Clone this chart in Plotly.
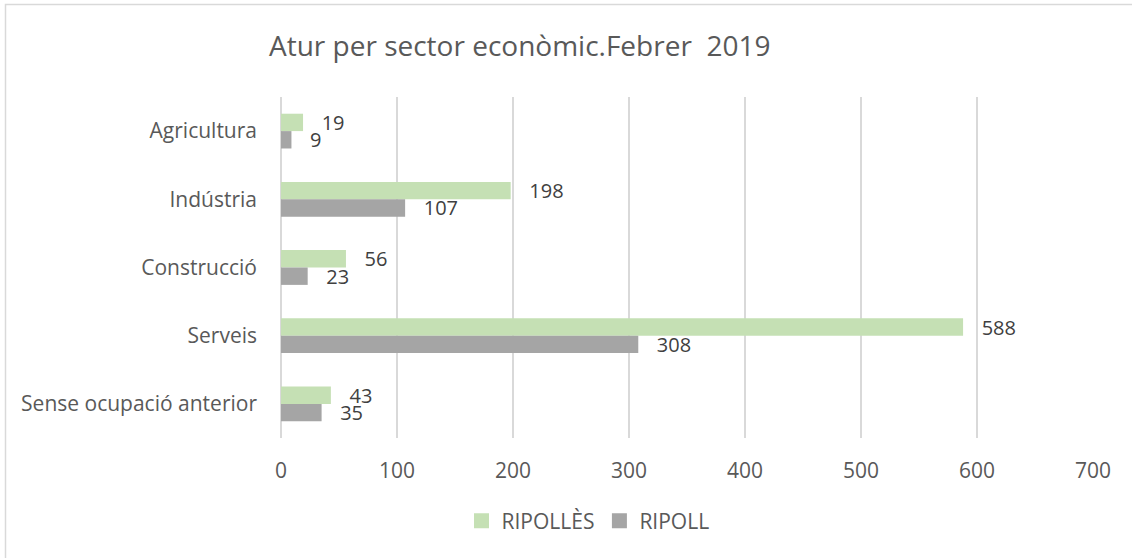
import plotly.graph_objects as go

categories = ["Agricultura", "Indústria", "Construcció", "Serveis", "Sense ocupació anterior"]
ripolles = [19, 198, 56, 588, 43]
ripoll = [9, 107, 23, 308, 35]
x_ticks = [0, 100, 200, 300, 400, 500, 600, 700]

W, H = 1132, 558
L, R, T, B = 281, 1093, 97, 438
pw, ph = R - L, B - T

def px(x):
    return (x - L) / pw

def py(y):
    return (B - y) / ph

FONT = "Open Sans"
TXT = "#595959"
series = [("RIPOLLÈS", ripolles, "#C5E0B4"), ("RIPOLL", ripoll, "#A5A5A5")]

fig = go.Figure()
for name, vals, col in series:
    fig.add_trace(go.Bar(
        y=categories, x=vals, name=name, orientation="h", showlegend=False,
        marker=dict(color=col, line=dict(width=0)),
        text=vals, texttemplate="\u00a0\u00a0\u00a0%{x}", textposition="outside",
        constraintext="none",
        textfont=dict(family=FONT, size=20, color="#404040"), cliponaxis=False,
    ))
# legend keys (square swatches like the reference)
for name, vals, col in series:
    fig.add_trace(go.Scatter(
        x=[None], y=[None], name=name, mode="markers",
        marker=dict(symbol="square", size=15, color=col), showlegend=True,
    ))

fig.update_layout(
    width=W, height=H,
    margin=dict(l=L, r=W - R, t=T, b=H - B, autoexpand=False),
    paper_bgcolor="white", plot_bgcolor="white",
    barmode="group", bargap=0.49, bargroupgap=0,
    font=dict(family=FONT, color=TXT),
    showlegend=True,
    legend=dict(orientation="h", x=px(588), y=py(521), xanchor="center", yanchor="middle",
                font=dict(family=FONT, size=21, color=TXT), traceorder="normal",
                itemwidth=30, itemsizing="trace"),
    xaxis=dict(range=[0, 700], tickvals=x_ticks, showgrid=True, gridcolor="#D9D9D9",
               gridwidth=1.5, zeroline=True, zerolinecolor="#D9D9D9", zerolinewidth=1.5,
               showline=False, ticks="", tickfont=dict(family=FONT, size=21, color=TXT),
               ticklabelstandoff=18, fixedrange=True),
    yaxis=dict(autorange="reversed", showgrid=False, zeroline=False, showline=False,
               ticks="", tickfont=dict(family=FONT, size=21, color=TXT),
               ticklabelstandoff=23, fixedrange=True),
    shapes=[dict(type="rect", xref="paper", yref="paper",
                 x0=px(5.5), x1=px(1140), y0=py(570), y1=py(4.5),
                 line=dict(color="#D9D9D9", width=1.5), fillcolor="rgba(0,0,0,0)",
                 layer="below")],
    annotations=[dict(text="Atur per sector econòmic.Febrer  2019", xref="paper", yref="paper",
                      x=px(519), y=py(45), xanchor="center", yanchor="middle", showarrow=False,
                      font=dict(family=FONT, size=28, color=TXT))],
)

fig.write_html("out.html")
